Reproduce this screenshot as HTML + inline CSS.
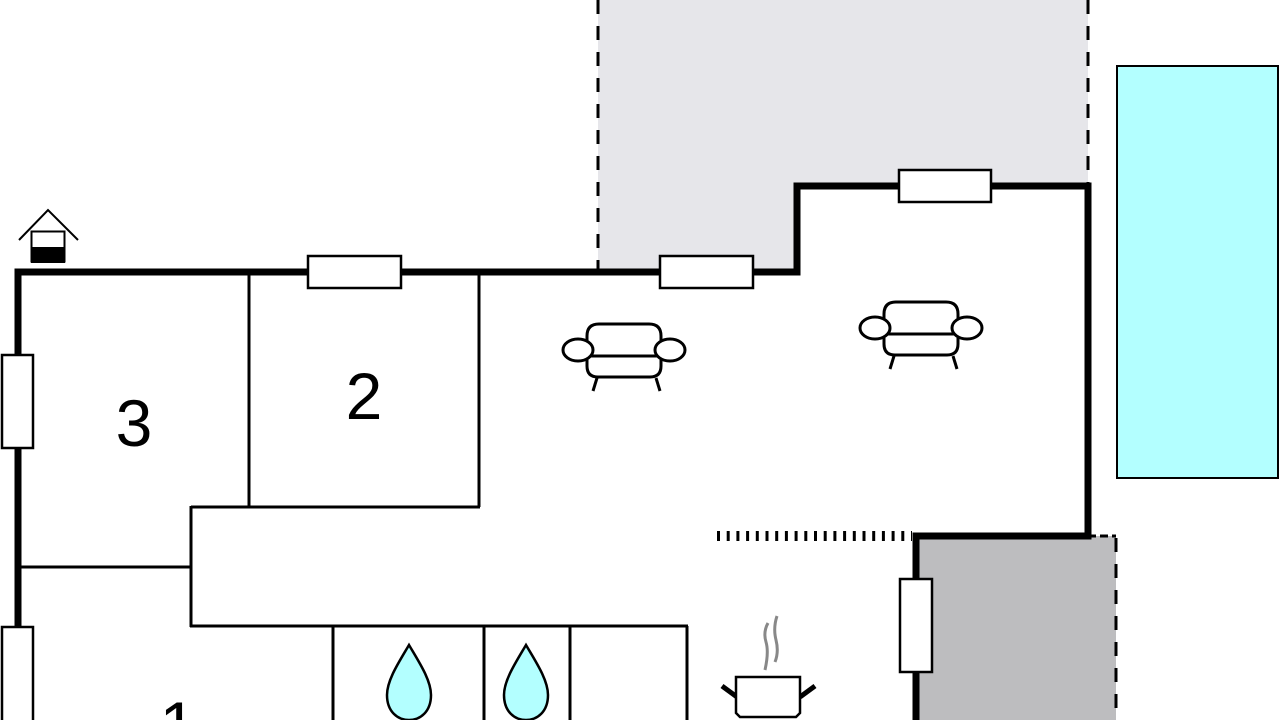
<!DOCTYPE html>
<html><head><meta charset="utf-8"><style>html,body{margin:0;padding:0;background:#fff;width:1280px;height:720px;overflow:hidden;}svg{display:block}</style></head>
<body>
<svg width="1280" height="720" viewBox="0 0 1280 720" xmlns="http://www.w3.org/2000/svg" overflow="hidden">
<defs>
<clipPath id="c"><rect x="0" y="0" width="1280" height="720"/></clipPath>
<g id="sofa" fill="none" stroke="#000" stroke-width="3">
  <path d="M-37,345 L-37,336 Q-37,324 -25,324 L25,324 Q37,324 37,336 L37,345"/>
  <path d="M-37,356 L-37,366 Q-37,377 -26,377 L26,377 Q37,377 37,366 L37,356"/>
  <line x1="-38" y1="356" x2="38" y2="356"/>
  <ellipse cx="-46" cy="350" rx="15" ry="11" fill="#fff"/>
  <ellipse cx="46" cy="350" rx="15" ry="11" fill="#fff"/>
  <line x1="-27" y1="378" x2="-31" y2="391"/>
  <line x1="32" y1="378" x2="36" y2="391"/>
</g>
</defs>
<g clip-path="url(#c)">
<path d="M598,0 L1088,0 L1088,186 L797,186 L797,272 L598,272 Z" fill="#e6e6ea"/>
<line x1="598" y1="0" x2="598" y2="272" stroke="#000" stroke-width="3" stroke-dasharray="14,12"/>
<line x1="1088" y1="0" x2="1088" y2="186" stroke="#000" stroke-width="3" stroke-dasharray="14,12"/>
<rect x="916" y="536" width="200" height="184" fill="#bdbdbf"/>
<line x1="1116" y1="538" x2="1116" y2="720" stroke="#000" stroke-width="3" stroke-dasharray="14,12"/>
<line x1="1088" y1="536" x2="1116" y2="536" stroke="#000" stroke-width="3" stroke-dasharray="8,4"/>
<rect x="1117" y="66" width="161" height="412" fill="#b3ffff" stroke="#000" stroke-width="2"/>
<g stroke="#000" stroke-width="3" fill="none">
  <line x1="249" y1="272" x2="249" y2="507"/>
  <line x1="479" y1="272" x2="479" y2="507"/>
  <line x1="191" y1="507" x2="480" y2="507"/>
  <line x1="191" y1="506" x2="191" y2="627"/>
  <line x1="18" y1="567" x2="191" y2="567"/>
  <line x1="190" y1="626" x2="688" y2="626"/>
  <line x1="333" y1="626" x2="333" y2="720"/>
  <line x1="484" y1="626" x2="484" y2="720"/>
  <line x1="570" y1="626" x2="570" y2="720"/>
  <line x1="687" y1="626" x2="687" y2="720"/>
</g>
<path d="M18,720 L18,272 L797,272 L797,186 L1088,186 L1088,536 L916,536 L916,720" fill="none" stroke="#000" stroke-width="7"/>
<line x1="717" y1="536" x2="912" y2="536" stroke="#000" stroke-width="10" stroke-dasharray="3,6.7"/>
<g fill="#fff" stroke="#000" stroke-width="2.5">
  <rect x="308" y="256" width="93" height="32"/>
  <rect x="660" y="256" width="93" height="32"/>
  <rect x="899" y="170" width="92" height="32"/>
  <rect x="2" y="355" width="31" height="93"/>
  <rect x="2" y="627" width="31" height="100"/>
  <rect x="900" y="579" width="32" height="93"/>
</g>
<path d="M19,240 L48,210 L78,240" fill="none" stroke="#000" stroke-width="2"/>
<rect x="31.5" y="231.5" width="33" height="30" fill="#fff" stroke="#000" stroke-width="2"/>
<rect x="31" y="247" width="34" height="16" fill="#000"/>
<use href="#sofa" transform="translate(624,0)"/>
<use href="#sofa" transform="translate(921,-22)"/>
<g fill="#b3ffff" stroke="#000" stroke-width="2.5">
  <path d="M409,645 C399,662 387,680 387,695 C387,712 398,720 409,720 C420,720 431,712 431,695 C431,680 419,662 409,645 Z"/>
  <path d="M526,645 C516,662 504,680 504,695 C504,712 515,720 526,720 C537,720 548,712 548,695 C548,680 536,662 526,645 Z"/>
</g>
<g>
  <path d="M768,623 Q763,632 766,642 Q769,652 765,670" fill="none" stroke="#888" stroke-width="3"/>
  <path d="M777,616 Q773,628 776,640 Q779,652 775,662" fill="none" stroke="#888" stroke-width="3"/>
  <line x1="722" y1="686" x2="737" y2="697" stroke="#000" stroke-width="5"/>
  <line x1="815" y1="686" x2="800" y2="697" stroke="#000" stroke-width="5"/>
  <path d="M736,677 L800,677 L800,713 L796,717 L740,717 L736,713 Z" fill="#fff" stroke="#000" stroke-width="2.5"/>
</g>
<g font-family="Liberation Sans, sans-serif" font-size="66" fill="#000" text-anchor="middle">
  <text x="134" y="446">3</text>
  <text x="364" y="419">2</text>
  <text x="178" y="748">1</text>
</g>
</g>
</svg>
</body></html>
